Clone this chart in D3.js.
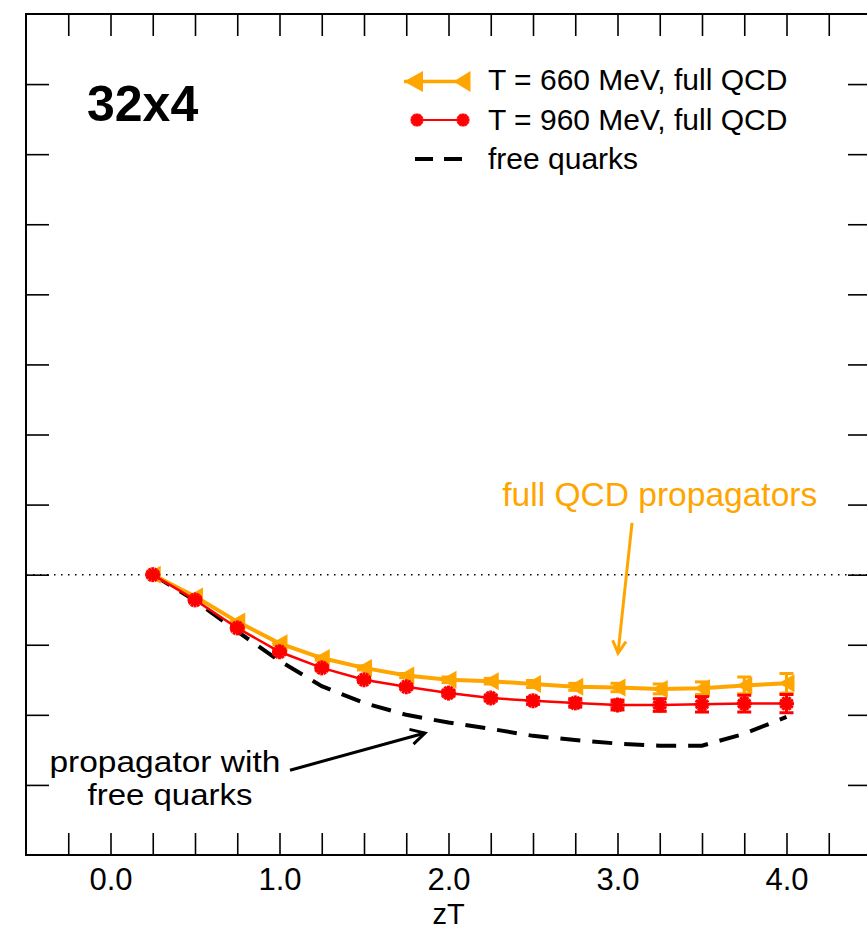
<!DOCTYPE html>
<html>
<head>
<meta charset="utf-8">
<script src="https://cdn.jsdelivr.net/npm/d3@7"></script>
<style>
  body { margin: 0; background: #fff; }
  svg { display: block; }
  text { font-family: "Liberation Sans", Arial, Helvetica, sans-serif; }
</style>
</head>
<body>
<svg id="chart" width="867" height="931"></svg>
<script>
// Correlator ratio vs zT on a 32x4 lattice
const zT = [0.25, 0.5, 0.75, 1.0, 1.25, 1.5, 1.75, 2.0, 2.25, 2.5, 2.75, 3.0, 3.25, 3.5, 3.75, 4.0];
const qcd660 = [1.000, 0.969, 0.933, 0.902, 0.881, 0.867, 0.856, 0.850, 0.848, 0.844, 0.840, 0.839, 0.837, 0.838, 0.842, 0.845];
const qcd660Err = [0.001, 0.002, 0.002, 0.002, 0.003, 0.003, 0.003, 0.004, 0.004, 0.005, 0.005, 0.006, 0.007, 0.009, 0.012, 0.014];
const qcd960 = [1.000, 0.964, 0.924, 0.890, 0.867, 0.850, 0.840, 0.831, 0.824, 0.820, 0.817, 0.814, 0.814, 0.815, 0.816, 0.816];
const qcd960Err = [0.001, 0.002, 0.002, 0.002, 0.003, 0.003, 0.003, 0.004, 0.004, 0.005, 0.006, 0.007, 0.009, 0.011, 0.012, 0.013];
const freeQuarks = [1.000, 0.963, 0.919, 0.877, 0.841, 0.817, 0.800, 0.789, 0.780, 0.770, 0.764, 0.759, 0.756, 0.756, 0.773, 0.797];
const xLabelValues = [0, 1, 2, 3, 4];
const seriesNames = ["T = 660 MeV, full QCD", "T = 960 MeV, full QCD", "free quarks"];
const latticeLabel = "32x4";
const xAxisTitle = "zT";

const ORANGE = "#ffa500";
const RED = "#ff0000";

const svg = d3.select("#chart");
const x = d3.scaleLinear().domain([-0.5, 4.5]).range([26, 871]);
const y = d3.scaleLinear().domain([0.6, 1.8]).range([855, 14]);

const minorX = d3.range(-1, 18).map(i => i * 0.25);
const majorY = d3.range(7, 18).map(i => i / 10);

// frame
svg.append("rect")
  .attr("x", x(-0.5)).attr("y", y(1.8))
  .attr("width", x(4.5) - x(-0.5)).attr("height", y(0.6) - y(1.8))
  .attr("fill", "none").attr("stroke", "#000").attr("stroke-width", 2);

function styleAxis(g) {
  g.select(".domain").remove();
  g.selectAll(".tick line").attr("stroke", "#000").attr("stroke-width", 1.6);
}

svg.append("g").attr("transform", `translate(0,${y(0.6)})`)
  .call(d3.axisBottom(x).tickValues(minorX).tickSize(-22).tickFormat(""))
  .call(styleAxis);
svg.append("g").attr("transform", `translate(0,${y(1.8)})`)
  .call(d3.axisTop(x).tickValues(minorX).tickSize(-22).tickFormat(""))
  .call(styleAxis);
svg.append("g").attr("transform", `translate(${x(-0.5)},0)`)
  .call(d3.axisLeft(y).tickValues(majorY).tickSize(-23).tickFormat(""))
  .call(styleAxis);
svg.append("g").attr("transform", `translate(${x(4.5)},0)`)
  .call(d3.axisRight(y).tickValues(majorY).tickSize(-23).tickFormat(""))
  .call(styleAxis);

// x tick labels
const lab = svg.append("g").attr("transform", `translate(0,${y(0.6)})`)
  .call(d3.axisBottom(x).tickValues(xLabelValues).tickSize(0).tickPadding(13).tickFormat(d3.format(".1f")));
lab.select(".domain").remove();
lab.selectAll("text").attr("font-size", 31).attr("font-family", "Liberation Sans, Arial, sans-serif").attr("fill", "#000");

svg.append("text").attr("x", x(2)).attr("y", 924).attr("text-anchor", "middle")
  .attr("font-size", 29).text(xAxisTitle);

// reference line at 1
svg.append("line")
  .attr("x1", x(-0.5)).attr("x2", x(4.5)).attr("y1", y(1)).attr("y2", y(1))
  .attr("stroke", "#000").attr("stroke-width", 1.5).attr("stroke-dasharray", "1.5,5.5");

const line = d3.line().x(d => x(d[0])).y(d => y(d[1]));

// free quarks
svg.append("path")
  .datum(zT.map((z, i) => [z, freeQuarks[i]]))
  .attr("d", line).attr("fill", "none").attr("stroke", "#000")
  .attr("stroke-width", 4).attr("stroke-dasharray", "20,12");

function triangle(g, cx, cy, w, h, color) {
  g.append("path")
    .attr("d", `M${cx - w / 2},${cy} L${cx + w / 2},${cy - h / 2} L${cx + w / 2},${cy + h / 2} Z`)
    .attr("fill", color);
}
function star(g, cx, cy, r, color) {
  const s = g.append("g").attr("transform", `translate(${cx},${cy})`);
  s.append("circle").attr("r", r * 0.45).attr("fill", color);
  for (let k = 0; k < 6; k++) {
    const a = k * Math.PI / 6;
    s.append("line")
      .attr("x1", -r * Math.cos(a)).attr("y1", -r * Math.sin(a))
      .attr("x2", r * Math.cos(a)).attr("y2", r * Math.sin(a))
      .attr("stroke", color).attr("stroke-width", 3);
  }
}
function errorBars(g, vals, errs, color) {
  zT.forEach((z, i) => {
    const cx = x(z), y1 = y(vals[i] - errs[i]), y2 = y(vals[i] + errs[i]);
    g.append("line").attr("x1", cx).attr("x2", cx).attr("y1", y1).attr("y2", y2)
      .attr("stroke", color).attr("stroke-width", 3);
    [y1, y2].forEach(yy => g.append("line")
      .attr("x1", cx - 7).attr("x2", cx + 7).attr("y1", yy).attr("y2", yy)
      .attr("stroke", color).attr("stroke-width", 3));
  });
}

// T = 660 MeV
const g660 = svg.append("g");
g660.append("path").datum(zT.map((z, i) => [z, qcd660[i]]))
  .attr("d", line).attr("fill", "none").attr("stroke", ORANGE).attr("stroke-width", 4);
errorBars(g660, qcd660, qcd660Err, ORANGE);
zT.forEach((z, i) => triangle(g660, x(z), y(qcd660[i]), 16, 18, ORANGE));

// T = 960 MeV
const g960 = svg.append("g");
g960.append("path").datum(zT.map((z, i) => [z, qcd960[i]]))
  .attr("d", line).attr("fill", "none").attr("stroke", RED).attr("stroke-width", 2.5);
errorBars(g960, qcd960, qcd960Err, RED);
zT.forEach((z, i) => star(g960, x(z), y(qcd960[i]), 7.5, RED));

// legend
const lg = svg.append("g");
lg.append("line").attr("x1", 404).attr("x2", 470).attr("y1", 81.5).attr("y2", 81.5)
  .attr("stroke", ORANGE).attr("stroke-width", 3.5);
triangle(lg, 413.5, 81.5, 19, 21, ORANGE);
triangle(lg, 462, 81.5, 17, 21, ORANGE);
lg.append("line").attr("x1", 417).attr("x2", 463).attr("y1", 120).attr("y2", 120)
  .attr("stroke", RED).attr("stroke-width", 2);
star(lg, 417, 120, 6.5, RED);
star(lg, 463, 120, 6.5, RED);
lg.append("line").attr("x1", 415).attr("x2", 462).attr("y1", 159).attr("y2", 159)
  .attr("stroke", "#000").attr("stroke-width", 4).attr("stroke-dasharray", "18,11");
[90, 130, 169].forEach((by, i) => lg.append("text")
  .attr("x", 488).attr("y", by).attr("font-size", 30).attr("fill", "#000").text(seriesNames[i]));

// lattice label
svg.append("text").attr("x", x(-0.139)).attr("y", y(1.648))
  .attr("font-size", 50).attr("font-weight", "bold").text(latticeLabel);

// annotations
function arrow(x0, y0, x1, y1, color, head) {
  const px0 = x(x0), py0 = y(y0), px1 = x(x1), py1 = y(y1);
  const ang = Math.atan2(py1 - py0, px1 - px0);
  svg.append("line").attr("x1", px0).attr("y1", py0).attr("x2", px1).attr("y2", py1)
    .attr("stroke", color).attr("stroke-width", 3);
  const a1 = ang + Math.PI - 0.5, a2 = ang + Math.PI + 0.5;
  svg.append("path")
    .attr("d", `M${px1 + head * Math.cos(a1)},${py1 + head * Math.sin(a1)} L${px1},${py1} L${px1 + head * Math.cos(a2)},${py1 + head * Math.sin(a2)}`)
    .attr("fill", "none").attr("stroke", color).attr("stroke-width", 3);
}

svg.append("text").attr("x", x(3.25)).attr("y", y(1.098)).attr("text-anchor", "middle")
  .attr("font-size", 33).attr("fill", ORANGE)
  .attr("textLength", 315).attr("lengthAdjust", "spacingAndGlyphs").text("full QCD propagators");
arrow(3.086, 1.074, 3.003, 0.888, ORANGE, 14);

svg.append("text").attr("x", x(0.322)).attr("y", y(0.718)).attr("text-anchor", "middle")
  .attr("font-size", 29).attr("fill", "#000")
  .attr("textLength", 231).attr("lengthAdjust", "spacingAndGlyphs").text("propagator with");
svg.append("text").attr("x", x(0.352)).attr("y", y(0.671)).attr("text-anchor", "middle")
  .attr("font-size", 29).attr("fill", "#000")
  .attr("textLength", 165).attr("lengthAdjust", "spacingAndGlyphs").text("free quarks");
arrow(1.062, 0.721, 1.861, 0.774, "#000", 16);
</script>
</body>
</html>
